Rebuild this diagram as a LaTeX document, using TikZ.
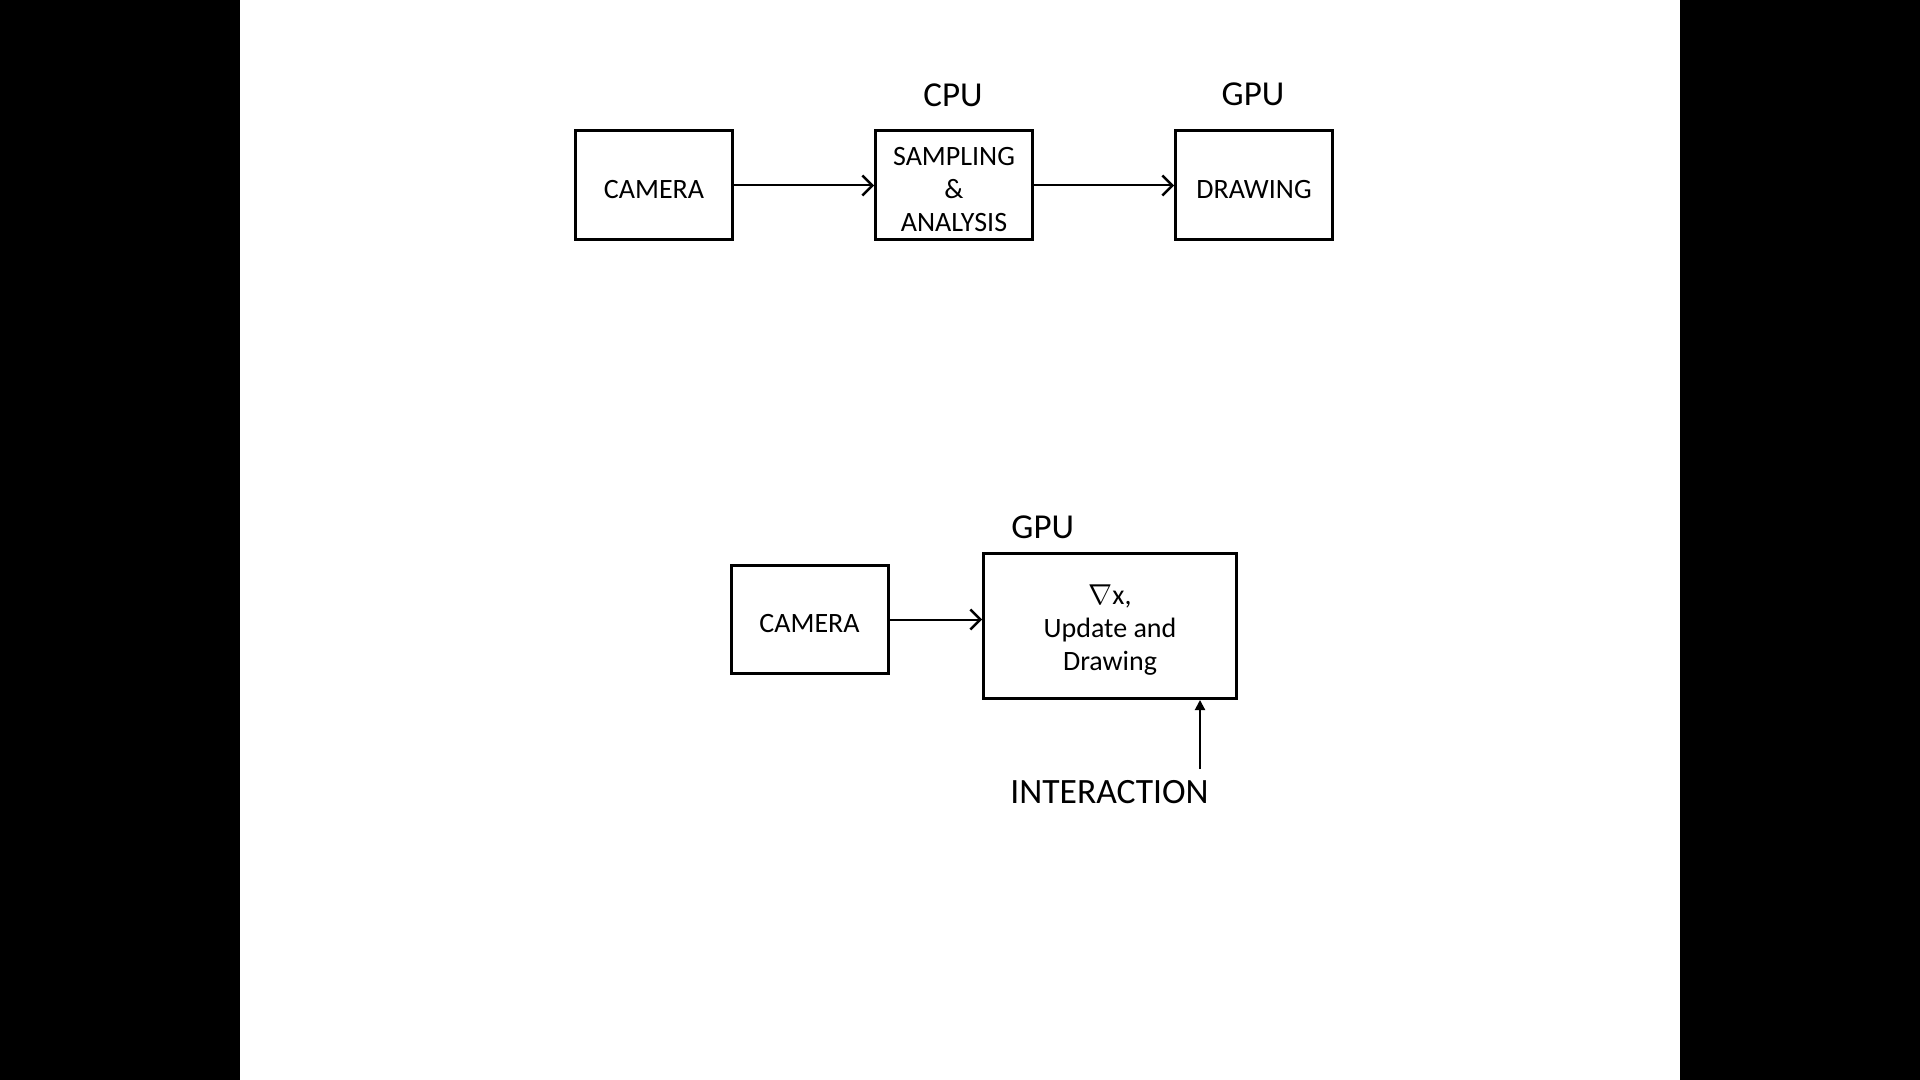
\documentclass[tikz,border=0pt]{standalone}
\usepackage{fontspec}
\setmainfont{Carlito}
\usetikzlibrary{arrows.meta}
\begin{document}
\begin{tikzpicture}[x=0.5pt,y=-0.5pt,
  blockbox/.style={draw, line width=1.5pt, inner sep=0pt},
  boxtext/.style={align=center, inner sep=0pt, yshift=-1.8pt,
    font=\fontsize{14}{16.5}\selectfont},
  unitlabel/.style={font=\fontsize{17.5}{20}\selectfont, inner sep=0pt},
  flow/.style={line width=1pt, -{Straight Barb[length=5pt,width=10pt,line width=1.2pt]}},
  input/.style={line width=1pt, -{Triangle[length=5pt,width=5pt]}}]
% page and side bars
\fill[black] (0,0) rectangle (1920,1080);
\fill[white] (240,0) rectangle (1680,1080);
\useasboundingbox (0,0) rectangle (1920,1080);

% upper pipeline: camera -> CPU -> GPU
\node[blockbox, minimum width=78.5pt, minimum height=54.5pt,
  label={[boxtext]center:CAMERA}] (cam1) at (654,185.5) {};
\node[blockbox, minimum width=78.5pt, minimum height=54.5pt,
  label={[boxtext]center:SAMPLING\\\&\\ANALYSIS}] (samp) at (954,185.5) {};
\node[blockbox, minimum width=78.5pt, minimum height=54.5pt,
  label={[boxtext]center:DRAWING}] (draw1) at (1254,185.5) {};
\node[unitlabel] (cpu) at (953,95) {CPU};
\node[unitlabel] (gpu1) at (1253,94) {GPU};
\draw[flow] (cam1) -- (samp);
\draw[flow] (samp) -- (draw1);

% lower pipeline: camera -> GPU, with user input from below
\node[blockbox, minimum width=78.5pt, minimum height=54pt,
  label={[boxtext]center:CAMERA}] (cam2) at (809.5,619.5) {};
\node[blockbox, minimum width=126.5pt, minimum height=72.5pt,
  label={[boxtext]center:\ensuremath{\nabla}x,\\Update and\\Drawing}] (gpubox) at (1110,626) {};
\node[unitlabel, anchor=west] (gpu2) at (1011,527) {GPU};
\node[unitlabel, font=\fontsize{17.8}{20}\selectfont] (inter) at (1109.5,792) {INTERACTION};
\coordinate (istart) at (1200,769);
\draw[flow] (cam2) -- (cam2 -| gpubox.west);
\draw[input] (istart) -- (istart |- gpubox.south);
\end{tikzpicture}
\end{document}
